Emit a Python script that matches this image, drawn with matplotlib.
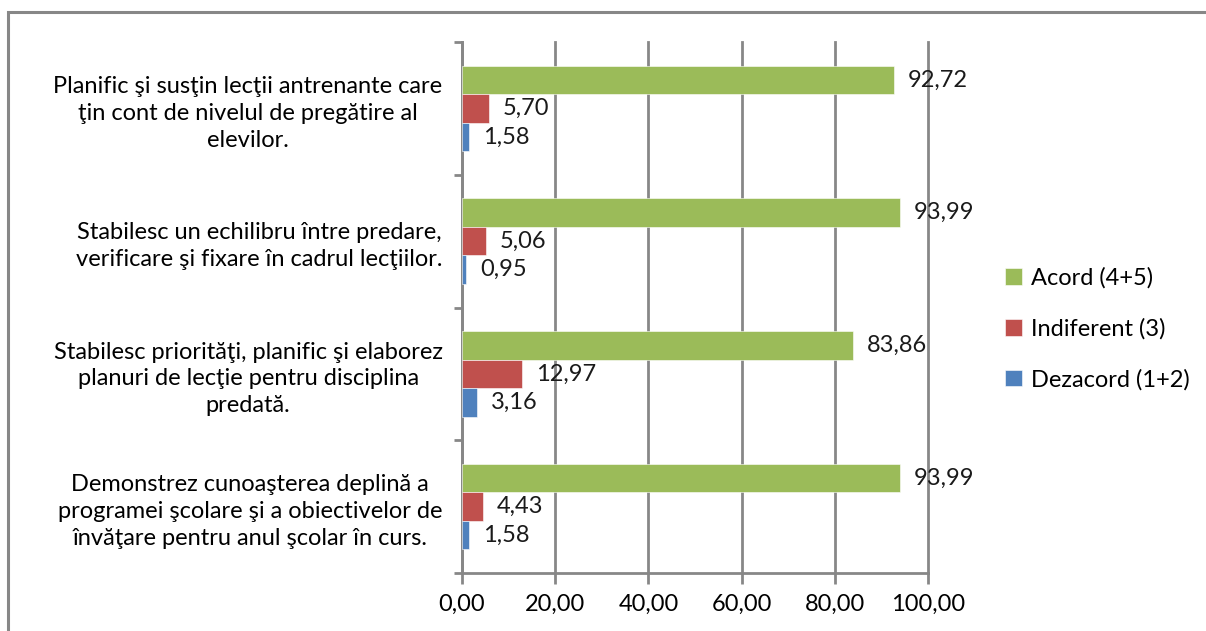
import numpy as np
import matplotlib.pyplot as plt
from matplotlib.patches import Rectangle

plt.rcParams['font.family'] = ['Lato', 'DejaVu Sans']

# categories, bottom to top as drawn
categories = [
    "Demonstrez cunoaşterea deplină a\nprogramei şcolare şi a obiectivelor de\nînvăţare pentru anul şcolar în curs.",
    "Stabilesc priorităţi, planific şi elaborez\nplanuri de lecţie pentru disciplina\npredată.",
    "Stabilesc un echilibru între predare,\nverificare şi fixare în cadrul lecţiilor.",
    "Planific şi susţin lecţii antrenante care\nţin cont de nivelul de pregătire al\nelevilor.",
]
acord = [93.99, 83.86, 93.99, 92.72]
indiferent = [4.43, 12.97, 5.06, 5.70]
dezacord = [1.58, 3.16, 0.95, 1.58]

series = [
    ("Acord (4+5)", acord, "#9BBB59", 1),
    ("Indiferent (3)", indiferent, "#C0504D", 0),
    ("Dezacord (1+2)", dezacord, "#4F81BD", -1),
]
xticks = [0, 20, 40, 60, 80, 100]

fig = plt.figure(figsize=(12.06, 6.31), dpi=100)
ax = fig.add_axes([0.3831, 0.0919, 0.3864, 0.8415])

# outer chart frame
fig.patches.append(Rectangle((8 / 1206, -0.05), 1.2, 1 - 12 / 631 + 0.05,
                             transform=fig.transFigure, fill=False,
                             edgecolor="#878787", linewidth=2.2))

y = np.arange(len(categories))
h = 0.215
fs = 17
for name, vals, col, off in series:
    bars = ax.barh(y + off * h, vals, height=h, color=col, label=name,
                   edgecolor="white", linewidth=0.4, zorder=3)
    for b, v in zip(bars, vals):
        ax.annotate(f"{v:.2f}".replace(".", ","),
                    (b.get_width(), b.get_y() + b.get_height() / 2),
                    xytext=(14, 0), textcoords="offset pixels",
                    va="center", ha="left", fontsize=fs, color="#1a1a1a", zorder=4)

ax.set_xlim(0, 100)
ax.set_ylim(-0.5, len(categories) - 0.5)
ax.set_xticks(xticks)
ax.set_xticklabels([f"{t:.2f}".replace(".", ",") for t in xticks], fontsize=fs)
ax.set_yticks(y)
ax.set_yticklabels(categories, fontsize=fs, ha="right", multialignment="center",
                   linespacing=1.34)
ax.set_yticks(np.arange(len(categories) + 1) - 0.5, minor=True)
ax.tick_params(axis="y", which="major", length=0, pad=14)
ax.tick_params(axis="y", which="minor", length=6, width=2, color="#878787")
ax.tick_params(axis="x", length=8, width=2, color="#878787", pad=7)

ax.grid(axis="x", color="#878787", linewidth=2, zorder=0)
for gl in ax.get_xgridlines():
    gl.set_clip_on(False)
for s in ["top", "right"]:
    ax.spines[s].set_visible(False)
for s in ["left", "bottom"]:
    ax.spines[s].set_color("#878787")
    ax.spines[s].set_linewidth(2)

ax.legend(loc="center left", bbox_to_anchor=(1.12, 0.46), frameon=False,
          fontsize=fs, handlelength=0.7, handleheight=0.7, handletextpad=0.4,
          labelspacing=1.24)

fig.savefig("out.png", dpi=100)
